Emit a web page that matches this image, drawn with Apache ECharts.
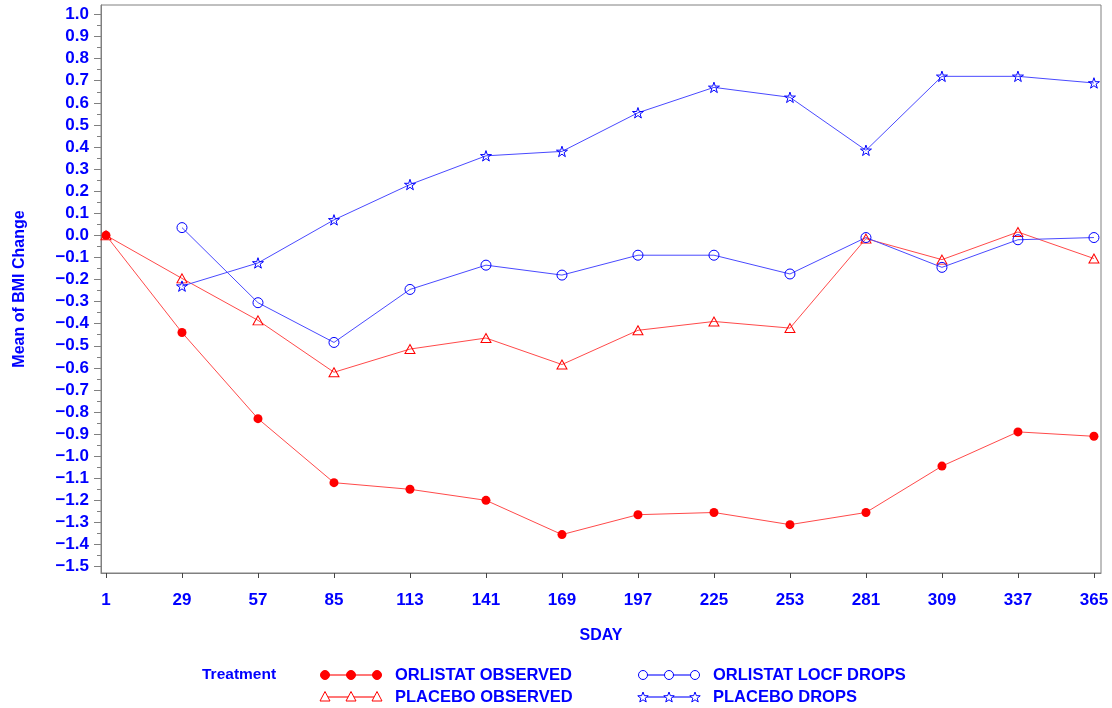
<!DOCTYPE html>
<html>
<head>
<meta charset="utf-8">
<script src="https://cdn.jsdelivr.net/npm/echarts@6/dist/echarts.min.js"></script>
<style>
  html, body { margin: 0; padding: 0; background: #fff; }
  #chart { width: 1112px; height: 708px; }
</style>
</head>
<body>
<div id="chart"></div>
<script>
// Study day of each visit
const days = [1, 29, 57, 85, 113, 141, 169, 197, 225, 253, 281, 309, 337, 365];

// Mean change in BMI per treatment group (null = no value at that visit)
const orlistatObserved = [0.00, -0.44, -0.83, -1.12, -1.15, -1.20, -1.355, -1.265, -1.255, -1.31, -1.255, -1.045, -0.89, -0.91];
const placeboObserved  = [0.00, -0.195, -0.385, -0.62, -0.515, -0.465, -0.585, -0.43, -0.39, -0.42, -0.015, -0.11, 0.015, -0.105];
const orlistatLocf     = [null, 0.035, -0.305, -0.485, -0.245, -0.135, -0.18, -0.09, -0.09, -0.175, -0.01, -0.145, -0.02, -0.01];
const placeboDrops     = [null, -0.23, -0.125, 0.07, 0.23, 0.36, 0.38, 0.555, 0.67, 0.625, 0.385, 0.72, 0.72, 0.69];

// Axis tick labels
const yMajor = [-1.5, -1.4, -1.3, -1.2, -1.1, -1.0, -0.9, -0.8, -0.7, -0.6, -0.5, -0.4, -0.3, -0.2, -0.1, 0.0,
                0.1, 0.2, 0.3, 0.4, 0.5, 0.6, 0.7, 0.8, 0.9, 1.0];
const yMinor = [-1.45, -1.35, -1.25, -1.15, -1.05, -0.95, -0.85, -0.75, -0.65, -0.55, -0.45, -0.35, -0.25, -0.15, -0.05,
                0.05, 0.15, 0.25, 0.35, 0.45, 0.55, 0.65, 0.75, 0.85, 0.95];

const seriesNames = ['ORLISTAT OBSERVED', 'PLACEBO OBSERVED', 'ORLISTAT LOCF DROPS', 'PLACEBO DROPS'];

const RED = '#ff0000';
const BLUE = '#0000ff';
const RED_LINE = '#ff4a4a';
const BLUE_LINE = '#4a4aff';
const TEXT = '#0000ff';
const FRAME = '#808080';
const FONT = '"Liberation Sans", Arial, sans-serif';

const STAR = 'path://M50,0 L61.2,34.5 L97.6,34.5 L68.2,55.9 L79.4,90.5 L50,69.1 L20.6,90.5 L31.8,55.9 L2.4,34.5 L38.8,34.5 Z';

function pairs(values) {
  const out = [];
  values.forEach((v, i) => { if (v !== null) out.push([days[i], v]); });
  return out;
}

function fmtY(v) {
  const s = Math.abs(v).toFixed(1);
  return v < -1e-9 ? '\u2212' + s : s;
}

// Legend built from plain shapes: a line with three markers, then the label
function starPoints(cx, cy, r) {
  const pts = [];
  for (let k = 0; k < 10; k++) {
    const rr = k % 2 === 0 ? r : r * 0.42;
    const a = -Math.PI / 2 + k * Math.PI / 5;
    pts.push([cx + rr * Math.cos(a), cy + rr * Math.sin(a)]);
  }
  return pts;
}
function markerShape(kind, cx, cy, color) {
  if (kind === 'dot') {
    return { type: 'circle', shape: { cx, cy, r: 4.5 }, style: { fill: color, stroke: color, lineWidth: 1 } };
  }
  if (kind === 'ring') {
    return { type: 'circle', shape: { cx, cy, r: 4.5 }, style: { fill: '#fff', stroke: color, lineWidth: 1 } };
  }
  if (kind === 'tri') {
    return { type: 'polygon', shape: { points: [[cx, cy - 5.5], [cx + 5, cy + 4], [cx - 5, cy + 4]] }, style: { fill: '#fff', stroke: color, lineWidth: 1 } };
  }
  return { type: 'polygon', shape: { points: starPoints(cx, cy + 0.5, 5.5) }, style: { fill: '#fff', stroke: color, lineWidth: 1 } };
}
function legendEntry(name, kind, color, lineColor, x0, cy) {
  const xs = [x0, x0 + 26, x0 + 52];
  const els = [
    { type: 'line', shape: { x1: xs[0], y1: cy, x2: xs[2], y2: cy }, style: { stroke: lineColor, lineWidth: 1.5 } }
  ];
  xs.forEach(x => els.push(markerShape(kind, x, cy, color)));
  els.push({
    type: 'text', x: x0 + 70, y: cy,
    style: { text: name, fill: TEXT, font: 'bold 16.5px ' + FONT, textVerticalAlign: 'middle' }
  });
  return els;
}

const legendGraphics = [
  { type: 'text', x: 202, y: 675, style: { text: 'Treatment', fill: TEXT, font: 'bold 15.5px ' + FONT, textVerticalAlign: 'middle' } },
  ...legendEntry(seriesNames[0], 'dot', RED, RED_LINE, 325, 675),
  ...legendEntry(seriesNames[1], 'tri', RED, RED_LINE, 325, 697),
  ...legendEntry(seriesNames[2], 'ring', BLUE, BLUE_LINE, 643, 675),
  ...legendEntry(seriesNames[3], 'star', BLUE, BLUE_LINE, 643, 697)
];

const chart = echarts.init(document.getElementById('chart'), null, { renderer: 'canvas' });

const option = {
  backgroundColor: '#ffffff',
  animation: false,
  grid: {
    left: 101, right: 11, top: 5, bottom: 135,
    show: true, borderColor: FRAME, borderWidth: 1, backgroundColor: 'transparent'
  },
  xAxis: {
    type: 'value',
    min: -0.84, max: 367.6,
    name: 'SDAY',
    nameLocation: 'middle',
    nameGap: 55,
    nameTextStyle: { color: TEXT, fontWeight: 'bold', fontSize: 16, fontFamily: FONT },
    axisLine: { show: true, onZero: false, lineStyle: { color: FRAME, width: 1 } },
    axisTick: { show: true, length: 5, customValues: days, lineStyle: { color: '#444' } },
    axisLabel: {
      customValues: days, margin: 19,
      color: TEXT, fontWeight: 'bold', fontSize: 17, fontFamily: FONT
    },
    splitLine: { show: false }
  },
  yAxis: [
    {
      type: 'value',
      min: -1.529, max: 1.043,
      position: 'left',
      name: 'Mean of BMI Change',
      nameLocation: 'middle',
      nameGap: 73,
      nameRotate: 90,
      nameTextStyle: { color: TEXT, fontWeight: 'bold', fontSize: 16, fontFamily: FONT },
      axisLine: { show: true, onZero: false, lineStyle: { color: FRAME, width: 1 } },
      axisTick: { show: true, length: 7, customValues: yMajor, lineStyle: { color: FRAME } },
      axisLabel: {
        customValues: yMajor, margin: 12, formatter: fmtY,
        color: TEXT, fontWeight: 'bold', fontSize: 17, fontFamily: FONT
      },
      splitLine: { show: false }
    },
    {
      type: 'value',
      min: -1.529, max: 1.043,
      position: 'left',
      axisLine: { show: false, onZero: false },
      axisTick: { show: true, length: 4, customValues: yMinor, lineStyle: { color: FRAME } },
      axisLabel: { show: false },
      splitLine: { show: false }
    }
  ],
  series: [
    {
      name: seriesNames[0], type: 'line', data: pairs(orlistatObserved),
      symbol: 'circle', symbolSize: 9,
      lineStyle: { color: RED_LINE, width: 1 },
      itemStyle: { color: RED, borderColor: RED, borderWidth: 0 },
      z: 4
    },
    {
      name: seriesNames[1], type: 'line', data: pairs(placeboObserved),
      symbol: 'triangle', symbolSize: [10, 9],
      lineStyle: { color: RED_LINE, width: 1 },
      itemStyle: { color: 'rgba(255,255,255,0)', borderColor: RED, borderWidth: 1 },
      z: 3
    },
    {
      name: seriesNames[2], type: 'line', data: pairs(orlistatLocf),
      symbol: 'circle', symbolSize: 10,
      lineStyle: { color: BLUE_LINE, width: 1 },
      itemStyle: { color: 'rgba(255,255,255,0)', borderColor: BLUE, borderWidth: 1 },
      z: 3
    },
    {
      name: seriesNames[3], type: 'line', data: pairs(placeboDrops),
      symbol: STAR, symbolSize: 11, symbolKeepAspect: true,
      lineStyle: { color: BLUE_LINE, width: 1 },
      itemStyle: { color: 'rgba(255,255,255,0)', borderColor: BLUE, borderWidth: 1 },
      z: 3
    }
  ],
  graphic: legendGraphics
};

chart.setOption(option);
</script>
</body>
</html>
